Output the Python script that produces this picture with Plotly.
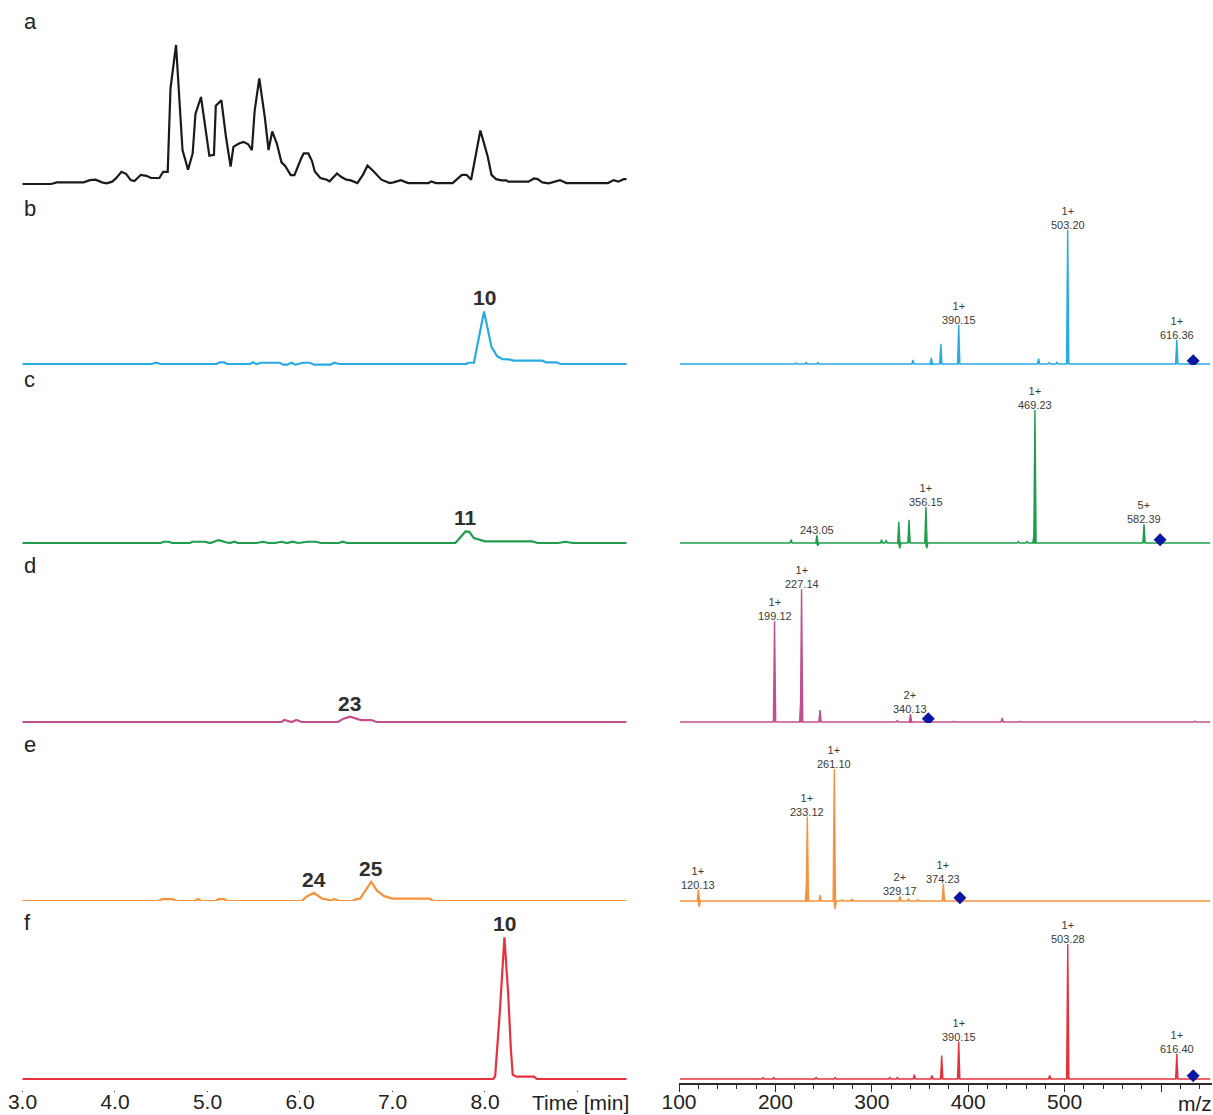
import plotly.graph_objects as go

FIG_W, FIG_H = 1213, 1115
FONT = "Liberation Sans, Arial, Helvetica, sans-serif"

# ---------------------------------------------------------------------------
# Chromatograms: retention time [min] and intensity (arbitrary units)
# ---------------------------------------------------------------------------
tic_t = [3.00, 3.31, 3.37, 3.66, 3.73, 3.79, 3.86, 3.91, 3.97, 4.01, 4.07, 4.12,
         4.17, 4.21, 4.28, 4.34, 4.39, 4.48, 4.52, 4.57, 4.60, 4.66, 4.73, 4.79,
         4.84, 4.87, 4.93, 5.02, 5.07, 5.09, 5.15, 5.20, 5.25, 5.28, 5.34, 5.39,
         5.44, 5.48, 5.51, 5.56, 5.62, 5.66, 5.70, 5.75, 5.80, 5.84, 5.90, 5.94,
         6.01, 6.04, 6.09, 6.13, 6.16, 6.22, 6.29, 6.32, 6.40, 6.44, 6.50, 6.55,
         6.62, 6.68, 6.73, 6.79, 6.88, 6.97, 7.01, 7.09, 7.17, 7.39, 7.42, 7.47,
         7.65, 7.75, 7.80, 7.85, 7.95, 8.03, 8.07, 8.12, 8.18, 8.23, 8.25, 8.47,
         8.53, 8.57, 8.62, 8.69, 8.81, 8.88, 9.33, 9.39, 9.44, 9.50, 9.53]
tic_i = [0, 0, 1.2, 1.2, 2.8, 3.1, 1.2, 0.5, 1.7, 4.0, 8.7, 7.3,
         2.8, 2.1, 6.6, 5.9, 4.3, 4.3, 8.7, 8.7, 68.6, 100, 24.4, 10.2,
         22.0, 50.4, 62.6, 20.3, 21.0, 56.3, 60.3, 33.8, 12.5, 26.7, 29.1, 30.3,
         28.6, 24.4, 52.7, 75.9, 48.0, 24.4, 37.8, 29.1, 15.6, 13.0, 6.4, 6.4,
         18.0, 22.0, 22.0, 16.5, 9.0, 4.3, 3.1, 1.9, 7.6, 5.4, 3.1, 2.6,
         0.7, 6.6, 13.2, 9.5, 3.1, 0.7, 1.2, 2.8, 0.7, 0.7, 1.9, 0.7,
         0.7, 6.6, 6.6, 3.1, 38.5, 19.6, 6.6, 3.5, 2.6, 2.6, 1.7, 1.7,
         4.0, 3.5, 1.2, 0.5, 2.8, 0.7, 0.7, 2.8, 1.7, 3.5, 3.5]

eic_b_t = [3.00, 4.40, 4.44, 4.50, 5.10, 5.13, 5.18, 5.21, 5.46, 5.49, 5.53, 5.58,
           5.78, 5.82, 5.86, 5.91, 5.95, 6.03, 6.11, 6.15, 6.33, 6.37, 6.42, 7.80,
           7.82, 7.88, 7.99, 8.07, 8.13, 8.19, 8.26, 8.31, 8.62, 8.66, 8.77, 8.82, 9.53]
eic_b_i = [0, 0, 0.9, 0, 0, 1.2, 1.2, 0, 0, 1.2, 0, 0.9,
           0.9, -0.5, -0.5, 0.9, -0.5, 0.9, 0.9, -0.5, -0.5, 0.9, 0, 0,
           0.9, 0.9, 37.8, 12.3, 5.7, 3.5, 3.3, 2.4, 2.4, 1.2, 1.2, 0, 0]

eic_c_t = [3.00, 4.49, 4.53, 4.58, 4.62, 4.81, 4.84, 4.97, 5.03, 5.12, 5.20, 5.24,
           5.29, 5.33, 5.53, 5.60, 5.66, 5.73, 5.80, 5.86, 5.92, 5.98, 6.08, 6.17,
           6.23, 6.42, 6.46, 6.51, 7.68, 7.79, 7.83, 7.88, 8.00, 8.51, 8.57, 8.79,
           8.87, 8.95, 9.53]
eic_c_i = [0, 0, 0.9, 0.9, 0, 0, 0.9, 0.9, 0, 2.1, 0.5, 0,
           0.9, 0, 0, 0.9, 0, 0, 0.9, 0, 0.9, 0, 0.9, 0.9,
           0, 0, 0.9, 0, 0, 8.3, 8.0, 3.5, 1.2, 1.2, 0, 0,
           0.9, 0, 0]

eic_d_t = [3.00, 5.80, 5.83, 5.91, 5.96, 6.02, 6.41, 6.47, 6.54, 6.61, 6.66, 6.77, 6.83, 9.53]
eic_d_i = [0, 0, 1.4, 0, 1.4, 0, 0, 2.4, 3.8, 2.6, 1.4, 1.4, 0, 0]

eic_e_t = [3.00, 4.47, 4.51, 4.62, 4.67, 4.86, 4.90, 4.93, 5.09, 5.12, 5.18, 5.21,
           6.02, 6.07, 6.15, 6.24, 6.29, 6.33, 6.37, 6.42, 6.57, 6.61, 6.65, 6.77,
           6.83, 6.91, 7.00, 7.40, 7.44, 9.53]
eic_e_i = [0, 0, 1.4, 1.4, 0, 0, 1.4, 0, 0, 1.4, 1.4, 0,
           0, 3.1, 5.9, 1.7, 1.2, 0, 1.4, 0, 0, 1.4, 1.7, 13.9,
           7.6, 3.5, 1.7, 1.7, 0, 0]

eic_f_t = [3.00, 8.09, 8.11, 8.16, 8.21, 8.25, 8.28, 8.30, 8.34, 8.53, 8.56, 9.53]
eic_f_i = [0, 0, 2.0, 48.0, 102.0, 62.0, 21.0, 3.0, 1.7, 1.7, 0, 0]

# Compound numbers written above the chromatographic peaks (row, time, intensity)
peak_ids = ["10", "11", "23", "24", "25", "10"]
peak_rows = ["b", "c", "d", "e", "e", "f"]
peak_t = [7.99, 7.79, 6.54, 6.15, 6.77, 8.21]
peak_i = [37.8, 8.3, 3.8, 5.9, 13.9, 102.0]

# ---------------------------------------------------------------------------
# MS/MS spectra: m/z and relative abundance [%]
# ---------------------------------------------------------------------------
spec_b_mz = [221.0, 232.0, 244.0, 342.6, 361.7, 371.6, 390.15, 473.0, 484.0, 492.0, 503.20, 616.36]
spec_b_rel = [0.8, 1.5, 1.0, 3.0, 4.5, 15.0, 29.0, 4.0, 1.0, 1.2, 100.0, 18.0]
spec_b_dip_mz = [362.5]
spec_b_dip_rel = [-3.0]
spec_b_lab_mz = [390.15, 503.20, 616.36]
spec_b_lab_z = ["1+", "1+", "1+"]

spec_c_mz = [216.3, 243.05, 310.1, 314.9, 328.0, 338.6, 356.15, 452.0, 461.0, 468.1, 469.23, 582.39]
spec_c_rel = [2.5, 5.7, 2.5, 2.0, 16.0, 17.5, 27.0, 1.0, 1.2, 5.0, 100.0, 14.0]
spec_c_dip_mz = [244.0, 329.0, 357.0]
spec_c_dip_rel = [-2.0, -4.0, -4.0]
spec_c_lab_mz = [243.05, 356.15, 469.23, 582.39]
spec_c_lab_z = ["", "1+", "1+", "5+"]

spec_d_mz = [133.1, 171.5, 199.12, 226.3, 227.14, 246.3, 295.5, 313.7, 326.5, 340.13, 384.8, 424.2, 435.2, 454.1, 635.0]
spec_d_rel = [0.5, 0.5, 76.0, 18.0, 100.0, 9.0, 0.5, 0.5, 1.0, 6.0, 0.5, 0.5, 3.0, 0.5, 0.7]
spec_d_dip_mz = [341.0]
spec_d_dip_rel = [-3.0]
spec_d_lab_mz = [199.12, 227.14, 340.13]
spec_d_lab_z = ["1+", "1+", "2+"]

spec_e_mz = [120.13, 232.4, 233.12, 246.3, 261.10, 269.5, 278.6, 279.6, 329.17, 337.9, 347.7, 374.23]
spec_e_rel = [8.6, 17.0, 64.0, 4.5, 100.0, 0.8, 1.0, 1.0, 3.5, 1.5, 1.0, 13.0]
spec_e_dip_mz = [121.0, 262.0]
spec_e_dip_rel = [-4.5, -6.0]
spec_e_lab_mz = [120.13, 233.12, 261.10, 329.17, 374.23]
spec_e_lab_z = ["1+", "1+", "1+", "2+", "1+"]

spec_f_mz = [187.2, 198.1, 242.2, 262.0, 318.6, 326.6, 344.1, 362.3, 372.5, 390.15, 484.5, 503.28, 616.40]
spec_f_rel = [1.0, 1.0, 1.0, 1.0, 1.0, 1.0, 3.2, 2.7, 17.3, 27.7, 2.7, 100.0, 18.6]
spec_f_dip_mz = []
spec_f_dip_rel = []
spec_f_lab_mz = [390.15, 503.28, 616.40]
spec_f_lab_z = ["1+", "1+", "1+"]

# Precursor m/z (marked with a diamond) for spectra b-f
precursor_mz = [633.4, 599.1, 358.6, 391.4, 633.4]

# Axis ticks
time_ticks = [3, 4, 5, 6, 7, 8, 9]
time_ticktext = ["3.0", "4.0", "5.0", "6.0", "7.0", "8.0", ""]
mz_ticks = [100, 200, 300, 400, 500, 600]
mz_ticktext = ["100", "200", "300", "400", "500", ""]

# ---------------------------------------------------------------------------
# Styling / layout parameters
# ---------------------------------------------------------------------------
row_names = ["a", "b", "c", "d", "e", "f"]
row_colors = ["#1a1a1a", "#29abe2", "#1f9d4c", "#c1508c", "#f7923c", "#e6323c"]
row_base_px = [184, 364, 543, 722, 901, 1079]       # baseline of each row (px from top)
letter_px = [21, 208, 379, 565, 744, 922]           # panel letter centres (px from top)
chrom_px_per_unit = 1.39
spec_px_full = [134, 133, 133, 132, 135]             # height of 100 % in spectra b-f
axis_px = 1084
time_dom_px = (21, 628)
time_range = [2.984, 9.546]
mz_dom_px = (679, 1212)
mz_range = [100, 652.9]
BELOW, ABOVE = 12, 178
LINE_DARK = "#2b2b2b"


def pdom(px_lo, px_hi):
    return [px_lo / FIG_W, px_hi / FIG_W]


def ypaper(py):
    return 1 - py / FIG_H


def ybox(base_px, px_per_unit):
    dom = [ypaper(base_px + BELOW), ypaper(base_px - ABOVE)]
    rng = [-BELOW / px_per_unit, ABOVE / px_per_unit]
    return dom, rng


def stick_profile(mz, rel, dip_mz, dip_rel, half=1.2, lo=101.0, hi=651.0):
    pts = sorted(list(zip(mz, rel)) + list(zip(dip_mz, dip_rel)))
    xs, ys = [lo], [0.0]
    for m, h in pts:
        xs += [m - half, m, m + half]
        ys += [0.0, h, 0.0]
    xs.append(hi)
    ys.append(0.0)
    return xs, ys


fig = go.Figure()
layout = {}
annotations = []

# --- chromatogram rows (y, y2 ... y6) on the shared time axis ---
chrom_t = [tic_t, eic_b_t, eic_c_t, eic_d_t, eic_e_t, eic_f_t]
chrom_i = [tic_i, eic_b_i, eic_c_i, eic_d_i, eic_e_i, eic_f_i]
for k in range(6):
    n = k + 1
    yid = "y" if n == 1 else f"y{n}"
    ykey = "yaxis" if n == 1 else f"yaxis{n}"
    dom, rng = ybox(row_base_px[k], chrom_px_per_unit)
    layout[ykey] = dict(domain=dom, range=rng, visible=False, anchor="x", fixedrange=True,
                        automargin=False)
    fig.add_trace(go.Scatter(x=chrom_t[k], y=chrom_i[k], mode="lines", xaxis="x", yaxis=yid,
                             line=dict(color=row_colors[k], width=2.2), hoverinfo="skip"))
    annotations.append(dict(xref="paper", yref="paper", x=22 / FIG_W, y=ypaper(letter_px[k]),
                            xanchor="left", yanchor="middle", text=row_names[k], showarrow=False,
                            font=dict(family=FONT, size=22, color="#222222")))

for lab, r, t, i in zip(peak_ids, peak_rows, peak_t, peak_i):
    n = row_names.index(r) + 1
    annotations.append(dict(xref="x", yref=f"y{n}", x=t, y=i, xanchor="center", yanchor="bottom",
                            text=f"<b>{lab}</b>", showarrow=False, yshift=0,
                            font=dict(family=FONT, size=21, color="#2e2e2e")))

# --- spectrum rows (y7 ... y11) on the m/z axis ---
spectra = [
    (spec_b_mz, spec_b_rel, spec_b_dip_mz, spec_b_dip_rel, spec_b_lab_mz, spec_b_lab_z),
    (spec_c_mz, spec_c_rel, spec_c_dip_mz, spec_c_dip_rel, spec_c_lab_mz, spec_c_lab_z),
    (spec_d_mz, spec_d_rel, spec_d_dip_mz, spec_d_dip_rel, spec_d_lab_mz, spec_d_lab_z),
    (spec_e_mz, spec_e_rel, spec_e_dip_mz, spec_e_dip_rel, spec_e_lab_mz, spec_e_lab_z),
    (spec_f_mz, spec_f_rel, spec_f_dip_mz, spec_f_dip_rel, spec_f_lab_mz, spec_f_lab_z),
]
for j, (mz, rel, dmz, drel, lmz, lz) in enumerate(spectra):
    k = j + 1
    n = 7 + j
    yid = f"y{n}"
    dom, rng = ybox(row_base_px[k], spec_px_full[j] / 100.0)
    layout[f"yaxis{n}"] = dict(domain=dom, range=rng, visible=False, anchor="x2", fixedrange=True,
                               automargin=False)
    xs, ys = stick_profile(mz, rel, dmz, drel)
    fig.add_trace(go.Scatter(x=xs, y=ys, mode="lines", xaxis="x2", yaxis=yid, fill="tozeroy",
                             fillcolor=row_colors[k], line=dict(color=row_colors[k], width=1.4),
                             hoverinfo="skip"))
    fig.add_trace(go.Scatter(x=[precursor_mz[j]], y=[2.4], mode="markers", xaxis="x2", yaxis=yid,
                             marker=dict(symbol="diamond", size=10, color="#0b17a3"),
                             hoverinfo="skip"))
    for m, z in zip(lmz, lz):
        h = rel[mz.index(m)]
        txt = f"{z}<br>{m:.2f}" if z else f"{m:.2f}"
        annotations.append(dict(xref="x2", yref=yid, x=m, y=h, xanchor="center", yanchor="bottom",
                                text=txt, showarrow=False, yshift=-3,
                                font=dict(family=FONT, size=11, color="#3a3a3a")))

# axis titles placed at the end of each axis
annotations.append(dict(xref="paper", yref="paper", x=580 / FIG_W, y=ypaper(1102),
                        xanchor="center", yanchor="middle", text="Time [min]", showarrow=False,
                        font=dict(family=FONT, size=21, color="#222222")))
annotations.append(dict(xref="paper", yref="paper", x=1195 / FIG_W, y=ypaper(1103),
                        xanchor="center", yanchor="middle", text="m/z", showarrow=False,
                        font=dict(family=FONT, size=21, color="#222222")))

axis_common = dict(
    anchor="free", position=ypaper(axis_px), showline=True, linecolor=LINE_DARK, linewidth=1.5,
    ticks="outside", ticklen=7, tickwidth=1.4, tickcolor=LINE_DARK, showgrid=False,
    zeroline=False, fixedrange=True, tickmode="array", automargin=False,
    ticklabelstandoff=-8,
    tickfont=dict(family=FONT, size=21, color="#222222"),
)
layout["xaxis"] = dict(axis_common, domain=pdom(*time_dom_px), range=time_range,
                       tickvals=time_ticks, ticktext=time_ticktext,
                       minor=dict(tickmode="linear", tick0=3, dtick=0.2, ticks="outside",
                                  ticklen=4, tickwidth=1.2, tickcolor=LINE_DARK, showgrid=False))
layout["xaxis2"] = dict(axis_common, domain=pdom(*mz_dom_px), range=mz_range,
                        tickvals=mz_ticks, ticktext=mz_ticktext,
                        minor=dict(tickmode="linear", tick0=100, dtick=20, ticks="outside",
                                   ticklen=4, tickwidth=1.2, tickcolor=LINE_DARK, showgrid=False))

fig.update_layout(
    width=FIG_W, height=FIG_H,
    margin=dict(l=0, r=0, t=0, b=0, autoexpand=False),
    paper_bgcolor="white", plot_bgcolor="white",
    showlegend=False,
    annotations=annotations,
    **layout,
)

fig.write_html("out.html")
